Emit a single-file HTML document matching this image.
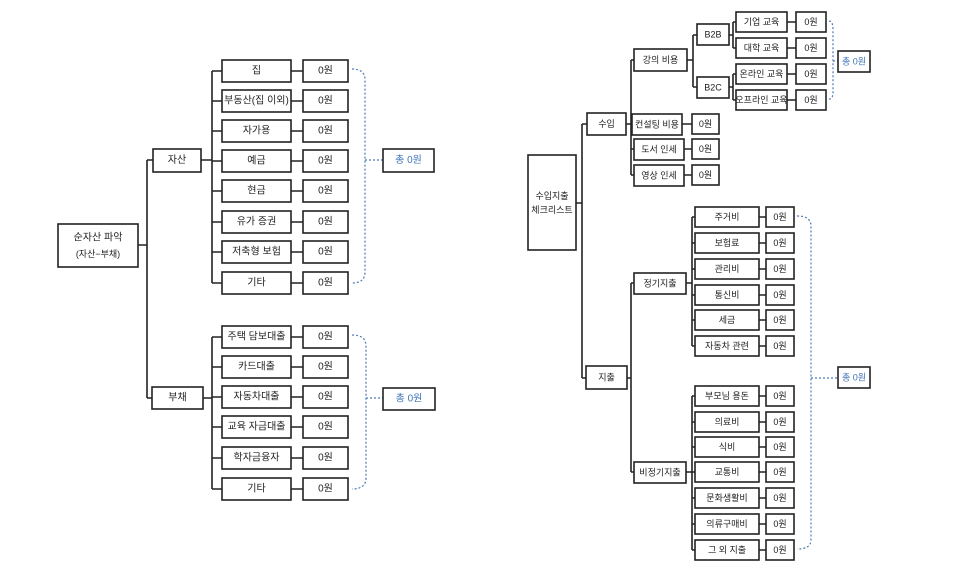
<!DOCTYPE html>
<html><head><meta charset="utf-8"><style>
html,body{margin:0;padding:0;background:#fff;}
svg{display:block;}
text{font-family:"Liberation Sans","Noto Sans CJK KR",sans-serif;font-size:10px;fill:#222;text-anchor:middle;dominant-baseline:central;}
.s text{font-size:9px;}
rect{fill:#fff;stroke:#222;stroke-width:1.6;}
.l{stroke:#222;stroke-width:1.6;fill:none;}
.d{stroke:#4a7ab8;stroke-width:1.2;stroke-dasharray:2 2;fill:none;}
.b{fill:#3f74b8;}
</style></head><body>
<svg width="957" height="578" viewBox="0 0 957 578" xmlns="http://www.w3.org/2000/svg">
<!-- LEFT TREE -->
<rect x="58" y="224" width="80" height="43"/>
<text x="98" y="238">순자산 파악</text>
<text x="98" y="254" style="font-size:9px">(자산−부채)</text>
<path class="l" d="M138 245H147M147 160V398M147 160H153M147 398H153"/>
<rect x="153" y="149" width="48" height="23"/><text x="177" y="160.5">자산</text>
<rect x="152" y="387" width="51" height="22"/><text x="177.5" y="398">부채</text>
<path class="l" d="M201 160H212M212 71V283"/>
<path class="l" d="M203 398H212M212 337V489"/>
<g>
<path class="l" d="M212 71H222M291 71H303M212 101H222M291 101H303M212 131H222M291 131H303M212 161H222M291 161H303M212 191H222M291 191H303M212 222H222M291 222H303M212 252H222M291 252H303M212 283H222M291 283H303"/>
<path class="l" d="M212 337H222M291 337H303M212 367H222M291 367H303M212 397H222M291 397H303M212 427H222M291 427H303M212 458H222M291 458H303M212 489H222M291 489H303"/>
<rect x="222" y="60" width="69" height="22"/><text x="256.5" y="71">집</text>
<rect x="222" y="90" width="69" height="22"/><text x="256.5" y="101">부동산(집 이외)</text>
<rect x="222" y="120" width="69" height="22"/><text x="256.5" y="131">자가용</text>
<rect x="222" y="150" width="69" height="22"/><text x="256.5" y="161">예금</text>
<rect x="222" y="180" width="69" height="22"/><text x="256.5" y="191">현금</text>
<rect x="222" y="211" width="69" height="22"/><text x="256.5" y="222">유가 증권</text>
<rect x="222" y="241" width="69" height="22"/><text x="256.5" y="252">저축형 보험</text>
<rect x="222" y="272" width="69" height="22"/><text x="256.5" y="283">기타</text>
<rect x="222" y="326" width="69" height="22"/><text x="256.5" y="337">주택 담보대출</text>
<rect x="222" y="356" width="69" height="22"/><text x="256.5" y="367">카드대출</text>
<rect x="222" y="386" width="69" height="22"/><text x="256.5" y="397">자동차대출</text>
<rect x="222" y="416" width="69" height="22"/><text x="256.5" y="427">교육 자금대출</text>
<rect x="222" y="447" width="69" height="22"/><text x="256.5" y="458">학자금융자</text>
<rect x="222" y="478" width="69" height="22"/><text x="256.5" y="489">기타</text>
</g>
<g>
<rect x="303" y="60" width="45" height="22"/><text x="325.5" y="71">0원</text>
<rect x="303" y="90" width="45" height="22"/><text x="325.5" y="101">0원</text>
<rect x="303" y="120" width="45" height="22"/><text x="325.5" y="131">0원</text>
<rect x="303" y="150" width="45" height="22"/><text x="325.5" y="161">0원</text>
<rect x="303" y="180" width="45" height="22"/><text x="325.5" y="191">0원</text>
<rect x="303" y="211" width="45" height="22"/><text x="325.5" y="222">0원</text>
<rect x="303" y="241" width="45" height="22"/><text x="325.5" y="252">0원</text>
<rect x="303" y="272" width="45" height="22"/><text x="325.5" y="283">0원</text>
<rect x="303" y="326" width="45" height="22"/><text x="325.5" y="337">0원</text>
<rect x="303" y="356" width="45" height="22"/><text x="325.5" y="367">0원</text>
<rect x="303" y="386" width="45" height="22"/><text x="325.5" y="397">0원</text>
<rect x="303" y="416" width="45" height="22"/><text x="325.5" y="427">0원</text>
<rect x="303" y="447" width="45" height="22"/><text x="325.5" y="458">0원</text>
<rect x="303" y="478" width="45" height="22"/><text x="325.5" y="489">0원</text>
</g>
<path class="d" d="M352 69Q365 69 365 80V272Q365 283 352 283M365 160H383"/>
<rect x="383" y="149" width="51" height="23"/><text class="b" x="408.5" y="160.5">총 0원</text>
<path class="d" d="M352 335Q366 335 366 346V478Q366 489 352 489M366 398H383"/>
<rect x="383" y="388" width="52" height="22"/><text class="b" x="409" y="399">총 0원</text>

<!-- RIGHT TREE -->
<g class="s">
<rect x="528" y="155" width="48" height="95"/>
<text x="552" y="196">수입지출</text>
<text x="552" y="210">체크리스트</text>
<path class="l" d="M576 203H582M582 124V378M582 124H587M582 378H586"/>
<rect x="587" y="113" width="39" height="22"/><text x="606.5" y="124">수입</text>
<rect x="586" y="366" width="41" height="23"/><text x="606.5" y="377.5">지출</text>
<path class="l" d="M626 124H631M631 60V175M631 60H634M631 124H634M631 149H634M631 175H634"/>
<rect x="634" y="49" width="53" height="22"/><text x="660.5" y="60">강의 비용</text>
<rect x="632" y="114" width="50" height="21"/><text x="657" y="124.5">컨설팅 비용</text>
<rect x="634" y="139" width="50" height="21"/><text x="659" y="149.5">도서 인세</text>
<rect x="634" y="165" width="50" height="21"/><text x="659" y="175.5">영상 인세</text>
<path class="l" d="M682 124H692M684 149H692M684 175H692"/>
<rect x="692" y="114" width="27" height="20"/><text x="705.5" y="124">0원</text>
<rect x="692" y="139" width="27" height="20"/><text x="705.5" y="149">0원</text>
<rect x="692" y="165" width="27" height="20"/><text x="705.5" y="175">0원</text>
<path class="l" d="M687 60H693M693 35V87M693 35H697M693 87H697"/>
<rect x="697" y="24" width="32" height="21"/><text x="713" y="34.5">B2B</text>
<rect x="697" y="77" width="32" height="21"/><text x="713" y="87.5">B2C</text>
<path class="l" d="M729 35H733M733 22V48M733 22H736M733 48H736M729 87H733M733 74V100M733 74H736M733 100H736"/>
<rect x="736" y="12" width="51" height="20"/><text x="761.5" y="22">기업 교육</text>
<rect x="736" y="38" width="51" height="20"/><text x="761.5" y="48">대학 교육</text>
<rect x="736" y="64" width="51" height="20"/><text x="761.5" y="74">온라인 교육</text>
<rect x="736" y="90" width="51" height="20"/><text x="761.5" y="100">오프라인 교육</text>
<path class="l" d="M787 22H796M787 48H796M787 74H796M787 100H796"/>
<rect x="796" y="12" width="30" height="20"/><text x="811" y="22">0원</text>
<rect x="796" y="38" width="30" height="20"/><text x="811" y="48">0원</text>
<rect x="796" y="64" width="30" height="20"/><text x="811" y="74">0원</text>
<rect x="796" y="90" width="30" height="20"/><text x="811" y="100">0원</text>
<path class="d" d="M829 21Q833 21 833 30V92Q833 99 829 99M833 61H838"/>
<rect x="838" y="51" width="32" height="21"/><text class="b" x="854" y="61.5">총 0원</text>

<path class="l" d="M627 378H631M631 283V472M631 283H634M631 472H634"/>
<rect x="634" y="273" width="52" height="21"/><text x="660" y="283.5">정기지출</text>
<rect x="634" y="462" width="52" height="21"/><text x="660" y="472.5">비정기지출</text>
<path class="l" d="M686 283H692M692 217V346M686 472H692M692 396V550"/>
<path class="l" d="M692 217H695M692 243H695M692 269H695M692 295H695M692 320H695M692 346H695M692 396H695M692 422H695M692 447H695M692 472H695M692 498H695M692 524H695M692 550H695"/>
<path class="l" d="M759 217H766M759 243H766M759 269H766M759 295H766M759 320H766M759 346H766M759 396H766M759 422H766M759 447H766M759 472H766M759 498H766M759 524H766M759 550H766"/>
<rect x="695" y="207" width="64" height="20"/><text x="727" y="217">주거비</text>
<rect x="695" y="233" width="64" height="20"/><text x="727" y="243">보험료</text>
<rect x="695" y="259" width="64" height="20"/><text x="727" y="269">관리비</text>
<rect x="695" y="285" width="64" height="20"/><text x="727" y="295">통신비</text>
<rect x="695" y="310" width="64" height="20"/><text x="727" y="320">세금</text>
<rect x="695" y="336" width="64" height="20"/><text x="727" y="346">자동차 관련</text>
<rect x="695" y="386" width="64" height="20"/><text x="727" y="396">부모님 용돈</text>
<rect x="695" y="412" width="64" height="20"/><text x="727" y="422">의료비</text>
<rect x="695" y="437" width="64" height="20"/><text x="727" y="447">식비</text>
<rect x="695" y="462" width="64" height="20"/><text x="727" y="472">교통비</text>
<rect x="695" y="488" width="64" height="20"/><text x="727" y="498">문화생활비</text>
<rect x="695" y="514" width="64" height="20"/><text x="727" y="524">의류구매비</text>
<rect x="695" y="540" width="64" height="20"/><text x="727" y="550">그 외 지출</text>
<rect x="766" y="207" width="28" height="20"/><text x="780" y="217">0원</text>
<rect x="766" y="233" width="28" height="20"/><text x="780" y="243">0원</text>
<rect x="766" y="259" width="28" height="20"/><text x="780" y="269">0원</text>
<rect x="766" y="285" width="28" height="20"/><text x="780" y="295">0원</text>
<rect x="766" y="310" width="28" height="20"/><text x="780" y="320">0원</text>
<rect x="766" y="336" width="28" height="20"/><text x="780" y="346">0원</text>
<rect x="766" y="386" width="28" height="20"/><text x="780" y="396">0원</text>
<rect x="766" y="412" width="28" height="20"/><text x="780" y="422">0원</text>
<rect x="766" y="437" width="28" height="20"/><text x="780" y="447">0원</text>
<rect x="766" y="462" width="28" height="20"/><text x="780" y="472">0원</text>
<rect x="766" y="488" width="28" height="20"/><text x="780" y="498">0원</text>
<rect x="766" y="514" width="28" height="20"/><text x="780" y="524">0원</text>
<rect x="766" y="540" width="28" height="20"/><text x="780" y="550">0원</text>
<path class="d" d="M797 216Q811 216 811 226V540Q811 549 797 549M811 378H838"/>
<rect x="838" y="367" width="32" height="21"/><text class="b" x="854" y="377.5">총 0원</text>
</g>
</svg>
</body></html>
